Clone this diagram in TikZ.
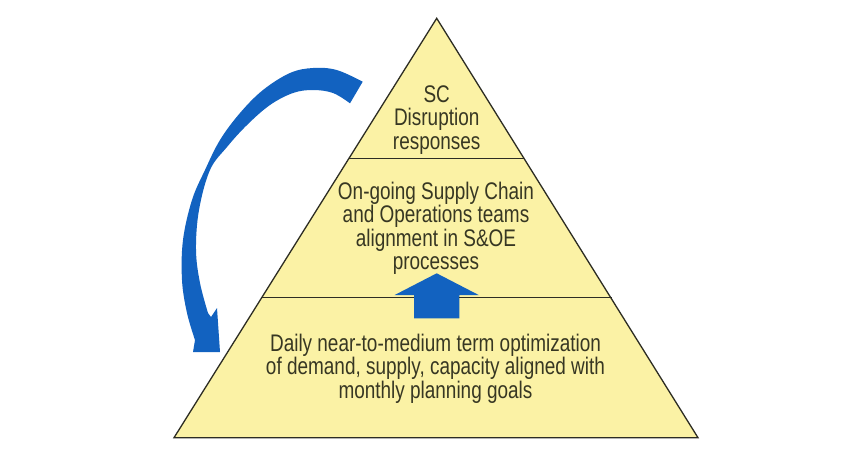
\documentclass[tikz,border=0pt]{standalone}
\usepackage{fontspec}
\newfontfamily\pyrfont[FakeStretch=0.79]{Liberation Sans}
\definecolor{pyrfill}{RGB}{251,242,165}
\definecolor{pyrline}{RGB}{45,45,35}
\definecolor{arrblue}{RGB}{18,98,192}
\definecolor{txt}{RGB}{55,55,35}
\tikzset{
  tiertext/.style={align=center, text=txt, font=\pyrfont\fontsize{24}{23.4}\selectfont, inner sep=0pt},
  edge/.style={draw=pyrline, line width=1.3pt},
}
\begin{document}
\begin{tikzpicture}[x=1pt,y=-1pt]
\useasboundingbox (0,0) rectangle (854,472);
\fill[white] (0,0) rectangle (854,472);
% pyramid
\coordinate (apex) at (436.7,18.3);
\coordinate (bl) at (174,437.7);
\coordinate (br) at (698,437.7);
\coordinate (l1) at (349,158.3);
\coordinate (r1) at (524.4,158.3);
\coordinate (l2) at (261.6,297.7);
\coordinate (r2) at (611.8,297.7);
\fill[pyrfill] (apex) -- (bl) -- (br) -- cycle;
% up arrow
\fill[arrblue] (436.7,273.3) -- (478.7,295) -- (459.3,295) -- (459.3,318.3) -- (414,318.3) -- (414,295) -- (394.7,295) -- cycle;
\draw[edge] (l1) -- (r1);
\draw[edge] (l2) -- (414,297.7);
\draw[edge] (459.3,297.7) -- (r2);
\draw[edge, line join=miter] (apex) -- (bl) -- (br) -- cycle;
% curved arrow
\fill[arrblue] plot[smooth, tension=0.6] coordinates {(362.7,81.7) (336.7,70) (313,68) (290,73) (263,90) (240,113) (220,140) (205,170) (192,200) (183,240) (182,280) (187,313) (195,340)}
  -- (193,352) -- (220,352) -- (217,308) -- (211,317)
  -- plot[smooth, tension=0.6] coordinates {(208,313) (200,283) (196,250) (199,210) (210,170) (227,147) (247,125) (270,105) (293,93) (313,90) (333,93) (350,103.3)} -- cycle;
% texts
\node[tiertext] (top) at (436.7,120) {SC\\Disruption\\responses};
\node[tiertext] (mid) at (436,228.3) {On-going Supply Chain\\and Operations teams\\alignment in S\&OE\\processes};
\node[tiertext] (bot) at (435.5,368.5) {Daily near-to-medium term optimization\\of demand, supply, capacity aligned with\\monthly planning goals};
\end{tikzpicture}
\end{document}
